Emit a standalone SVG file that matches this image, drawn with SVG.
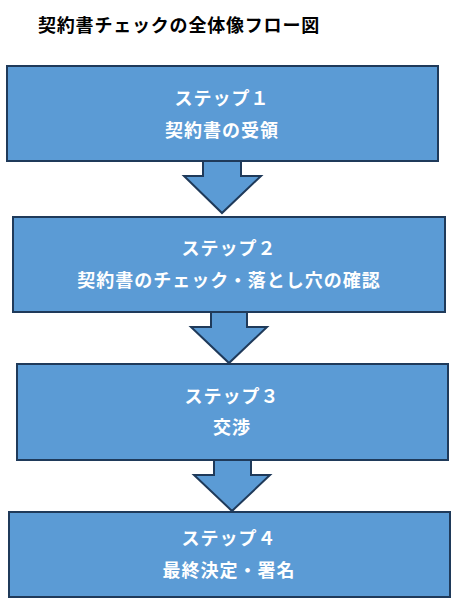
<svg xmlns="http://www.w3.org/2000/svg" width="463" height="615" viewBox="0 0 463 615">
<style>
.box{fill:#5B9BD5;stroke:#1F3A5A;stroke-width:2}
.arr{fill:#5B9BD5;stroke:#1F3A5A;stroke-width:2;stroke-linejoin:miter}
.t{font-family:"Noto Sans CJK JP","Noto Sans",sans-serif;font-weight:bold;font-size:18px;fill:#FFFFFF;text-anchor:middle;letter-spacing:1px}
.title{font-family:"Noto Sans CJK JP","Noto Sans",sans-serif;font-weight:bold;font-size:18px;fill:#000000;letter-spacing:0.8px}
</style>
<rect width="463" height="615" fill="#FFFFFF"/>
<text class="title" x="38" y="32">契約書チェックの全体像フロー図</text>
<g id="connectors">
<path class="arr" d="M203,161 L203,176 L184,176 L222,213 L261,176 L241,176 L241,161"/>
<path class="arr" d="M211,312 L211,327 L191,327 L229,363 L267,327 L247,327 L247,312"/>
<path class="arr" d="M214,460 L214,475 L194,475 L232,511 L270,475 L251,475 L251,460"/>
</g>
<g id="step1">
<rect class="box" x="7" y="66" width="431" height="95"/>
<text class="t" x="222" y="105">ステップ１</text>
<text class="t" x="222" y="137">契約書の受領</text>
</g>
<g id="step2">
<rect class="box" x="13" y="217" width="432" height="95"/>
<text class="t" x="229" y="255">ステップ２</text>
<text class="t" x="229" y="287">契約書のチェック・落とし穴の確認</text>
</g>
<g id="step3">
<rect class="box" x="17" y="364" width="431" height="96"/>
<text class="t" x="232" y="403">ステップ３</text>
<text class="t" x="232" y="434">交渉</text>
</g>
<g id="step4">
<rect class="box" x="9" y="512" width="441" height="85"/>
<text class="t" x="229" y="545">ステップ４</text>
<text class="t" x="229" y="577">最終決定・署名</text>
</g>
</svg>
